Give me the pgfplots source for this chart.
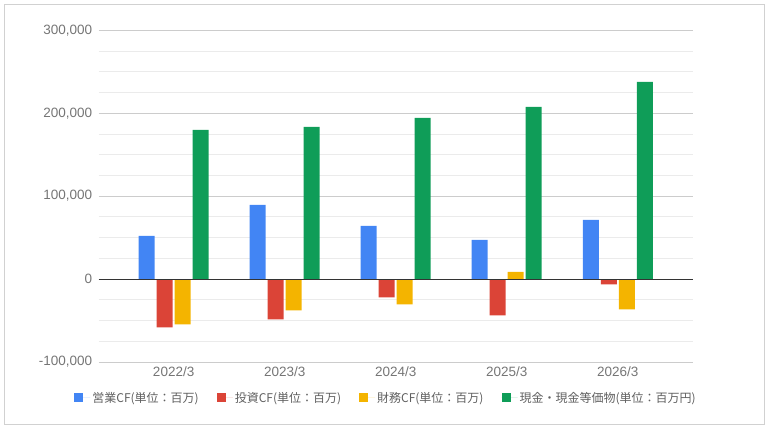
\documentclass[border=0pt]{standalone}
\usepackage{fontspec}
\usepackage{pgfplots}
\pgfplotsset{compat=1.18}
\setmainfont{Liberation Sans}
\newfontfamily\cjk{Noto Sans CJK JP}
\definecolor{gblue}{HTML}{4285F4}
\definecolor{gred}{HTML}{DB4437}
\definecolor{gyellow}{HTML}{F4B400}
\definecolor{ggreen}{HTML}{0F9D58}
\definecolor{tickgray}{HTML}{757575}
\definecolor{leggray}{HTML}{5F5F5F}
\begin{document}
\begin{tikzpicture}[x=1pt,y=1pt]
\begin{axis}[
  scale only axis,
  width=594pt, height=331.7pt,
  xmin=-0.675, xmax=4.675,
  ymin=-100000, ymax=300000,
  scaled y ticks=false,
  axis line style={draw=none},
  major tick length=0pt, minor tick length=0pt,
  xtick={0,1,2,3,4},
  xticklabels={2022/3,2023/3,2024/3,2025/3,2026/3},
  ytick={-100000,0,100000,200000,300000},
  yticklabels={{-100,000},{0},{100,000},{200,000},{300,000}},
  minor ytick={-75000,-50000,-25000,25000,50000,75000,125000,150000,175000,225000,250000,275000},
  ymajorgrids, yminorgrids,
  major grid style={draw=black!20, line width=0.8pt},
  minor grid style={draw=black!8, line width=0.8pt},
  tick label style={font=\fontsize{13.5}{15}\selectfont, text=tickgray},
  yticklabel style={xshift=-3pt},
  xticklabel style={yshift=-1pt},
  ybar, bar width=16pt,
  legend columns=4,
  legend style={draw=none, fill=none, at={(0.4837,-0.108)}, anchor=center,
    font=\cjk\fontsize{12}{14}\selectfont, text=leggray,
    /tikz/every even column/.append style={column sep=16pt}},
  legend image code/.code={\fill[#1] (0pt,-4.5pt) rectangle (9pt,4.5pt); \path (0pt,0pt) -- (16pt,0pt);},
  clip=false,
]
\addplot[fill=gblue, draw=none, bar shift=-27pt] coordinates {(0,52200) (1,89600) (2,64300) (3,47400) (4,71500)};
\addplot[fill=gred, draw=none, bar shift=-9pt] coordinates {(0,-58200) (1,-48600) (2,-22100) (3,-43800) (4,-6400)};
\addplot[fill=gyellow, draw=none, bar shift=9pt] coordinates {(0,-54600) (1,-37800) (2,-30500) (3,8800) (4,-36500)};
\addplot[fill=ggreen, draw=none, bar shift=27pt] coordinates {(0,179900) (1,183500) (2,194400) (3,207600) (4,237800)};
\legend{営業CF(単位：百万),投資CF(単位：百万),財務CF(単位：百万),現金・現金等価物(単位：百万円)}
\draw[black!80, line width=0.9pt] (axis cs:-0.675,0) -- (axis cs:4.675,0);
\end{axis}
\draw[black!18, line width=0.8pt] (-94.2,357.5) rectangle (665.8,-62.5);
\path (-98.7,362) rectangle (670.3,-66);
\end{tikzpicture}
\end{document}
